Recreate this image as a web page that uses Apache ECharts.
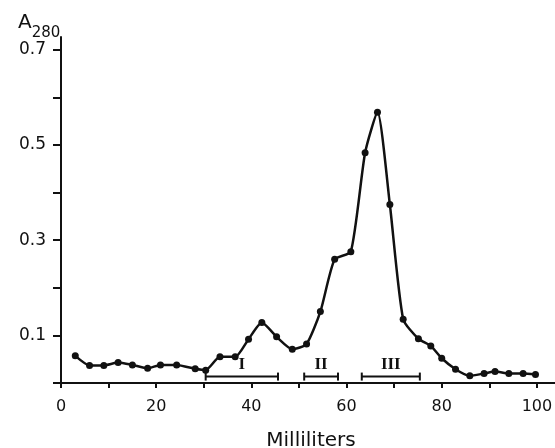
<!DOCTYPE html>
<html>
<head>
<meta charset="utf-8">
<script src="https://cdn.jsdelivr.net/npm/echarts@6/dist/echarts.min.js"></script>
<style>
  html, body { margin: 0; padding: 0; background: #fff; }
  #main { width: 555px; height: 448px; }
</style>
</head>
<body>
<div id="main"></div>
<script>
// elution volume (ml) and absorbance
const volume = [3, 6, 9, 12, 15, 18.2, 20.9, 24.3, 28.2, 30.4, 33.4, 36.6, 39.4, 42.2, 45.3, 48.6, 51.6,
  54.5, 57.5, 60.9, 63.9, 66.5, 69.1, 71.9, 75.1, 77.7, 80, 82.9, 85.9, 88.9, 91.2, 94.1, 97.1, 99.7]
const absorbance = [0.057, 0.037, 0.037, 0.043, 0.038, 0.031, 0.038, 0.038, 0.030, 0.027, 0.055, 0.055,
  0.092, 0.127, 0.097, 0.071, 0.082, 0.150, 0.260, 0.276, 0.484, 0.569, 0.375, 0.134, 0.093, 0.078,
  0.052, 0.029, 0.015, 0.020, 0.024, 0.020, 0.020, 0.018]

// pooled fractions
const poolNames = ['I', 'II', 'III']
const poolStart = [30.4, 51.1, 63.2]
const poolEnd = [45.6, 58.2, 75.4]
const poolLevel = 0.0135

const xTicks = [0, 10, 20, 30, 40, 50, 60, 70, 80, 90, 100]
const xLabels = [0, 20, 40, 60, 80, 100]
const yTicks = [0, 0.1, 0.2, 0.3, 0.4, 0.5, 0.6, 0.7]
const yLabels = [0.1, 0.3, 0.5, 0.7]

const ink = '#111'
const font = 'DejaVu Sans'

const chart = echarts.init(document.getElementById('main'))

let option = {
  animation: false,
  backgroundColor: '#fff',
  title: {
    text: '{a|A}{s|280}',
    left: 13,
    top: 8,
    textStyle: {
      fontWeight: 'normal',
      rich: {
        a: { fontFamily: font, fontSize: 20, fontWeight: 'normal', color: ink, lineHeight: 24, verticalAlign: 'top' },
        s: { fontFamily: font, fontSize: 15, fontWeight: 'normal', color: ink, lineHeight: 24, verticalAlign: 'bottom', padding: [0, 0, -4, 0] }
      }
    }
  },
  grid: { left: 61, right: 0, top: 37, bottom: 65, outerBoundsMode: 'none', containLabel: false },
  xAxis: {
    type: 'value',
    min: 0,
    max: 103.8,
    name: 'Milliliters',
    nameLocation: 'middle',
    nameGap: 48,
    nameTextStyle: { fontFamily: font, fontSize: 20, color: ink, padding: [0, 0, 0, 6] },
    splitLine: { show: false },
    axisLine: { show: true, onZero: false, lineStyle: { color: ink, width: 2 } },
    axisTick: { show: true, length: 5, customValues: xTicks, lineStyle: { color: ink, width: 2 } },
    axisLabel: { customValues: xLabels, margin: 16, fontFamily: font, fontSize: 16, color: ink }
  },
  yAxis: {
    type: 'value',
    min: 0,
    max: 0.727,
    splitLine: { show: false },
    axisLine: { show: true, onZero: false, lineStyle: { color: ink, width: 2 } },
    axisTick: { show: true, length: 8, customValues: yTicks, lineStyle: { color: ink, width: 2 } },
    axisLabel: { customValues: yLabels, margin: 15, fontFamily: font, fontSize: 17, color: ink }
  },
  series: [
    {
      type: 'line',
      data: volume.map((v, i) => [v, absorbance[i]]),
      smooth: 0.2,
      symbol: 'circle',
      symbolSize: 7,
      lineStyle: { color: ink, width: 2.5 },
      itemStyle: { color: ink }
    },
    {
      type: 'custom',
      data: poolNames.map((n, i) => [poolStart[i], poolEnd[i], poolLevel, n]),
      renderItem: (params, api) => {
        const a = api.coord([api.value(0), api.value(2)])
        const b = api.coord([api.value(1), api.value(2)])
        const name = poolNames[params.dataIndex]
        const st = { stroke: ink, lineWidth: 2 }
        return {
          type: 'group',
          children: [
            { type: 'line', shape: { x1: a[0], y1: a[1], x2: b[0], y2: b[1] }, style: st },
            { type: 'line', shape: { x1: a[0], y1: a[1] - 4, x2: a[0], y2: a[1] + 4 }, style: st },
            { type: 'line', shape: { x1: b[0], y1: b[1] - 4, x2: b[0], y2: b[1] + 4 }, style: st },
            {
              type: 'text',
              style: {
                text: name,
                x: (a[0] + b[0]) / 2,
                y: a[1] - 3,
                align: 'center',
                verticalAlign: 'bottom',
                font: 'bold 17px "Liberation Serif"',
                fill: ink
              }
            }
          ]
        }
      }
    }
  ]
}

option && chart.setOption(option)
</script>
</body>
</html>
